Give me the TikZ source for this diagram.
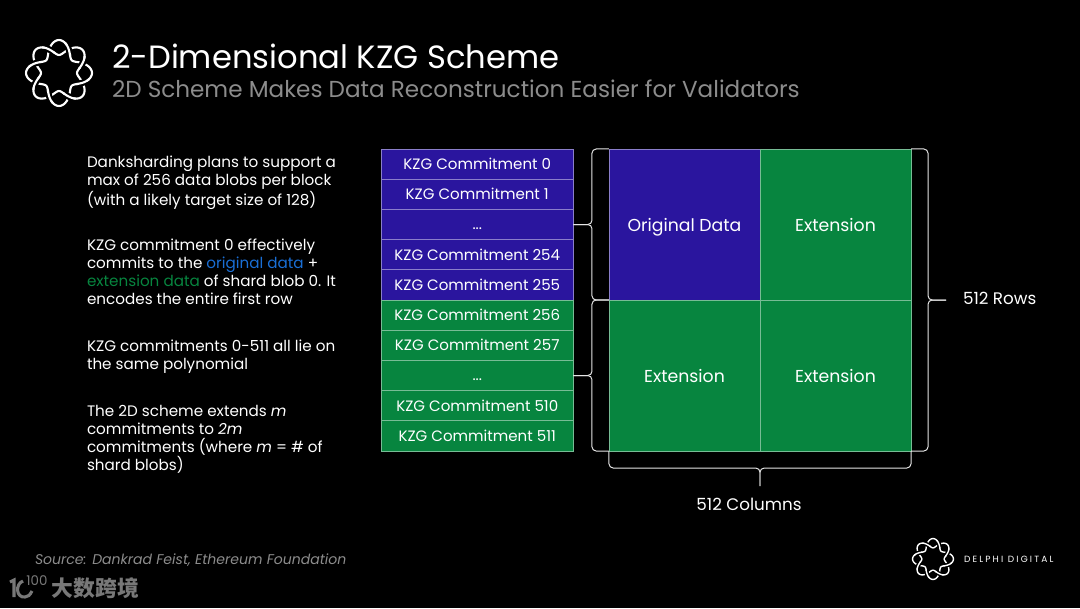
\documentclass[tikz,border=0pt]{standalone}
\usepackage{fontspec}
\setmainfont{Poppins}
\newfontfamily\cjk{Noto Sans CJK SC}
\definecolor{cblue}{HTML}{2A159E}
\definecolor{cgreen}{HTML}{07853F}
\definecolor{cgrey}{HTML}{8C8C8C}
\definecolor{cmark}{HTML}{787878}
\definecolor{clink}{HTML}{1A6FD6}
\newcommand{\rowdots}{...}
\tikzset{
  every picture/.style={x=0.025cm, y=-0.025cm},
  every node/.style={text=white, inner sep=0pt, outer sep=0pt},
  kzgbox/.style={draw=#1!55!white, fill=#1, line width=0.6pt, minimum width=4.81cm, minimum height=0.755cm, text height=7.8pt, text depth=0pt, font=\fontsize{10.7}{12}\selectfont},
  cell/.style={draw=#1!55!white, fill=#1, line width=0.5pt, minimum size=3.775cm, text height=9.4pt, text depth=0pt, font=\fontsize{12.3}{14}\selectfont},
  para/.style={anchor=north west, align=left, font=\fontsize{10.8}{12.8}\selectfont},
  brace/.style={draw=white!90!black, line width=0.7pt, rounded corners=3pt},
  dim/.style={font=\fontsize{11.9}{14}\selectfont},
  title/.style={anchor=base west, font=\fontsize{22.9}{26}\selectfont},
  subtitle/.style={anchor=base west, text=cgrey, font=\fontsize{16.43}{19}\selectfont},
  pics/logo/.style={code={
    \foreach \ph in {0,45}
      \draw[white, line width=#1, smooth, samples=97, domain=0:360]
        plot ({(25.5+7.5*cos(4*\x-4*\ph))*cos(\x)}, {(25.5+7.5*cos(4*\x-4*\ph))*sin(\x)});
    % strand on top at every other crossing
    \foreach \c in {22.5,112.5,202.5,292.5} {
      \draw[black, line width=3*#1, smooth, samples=9, domain=\c-7:\c+7]
        plot ({(25.5+7.5*cos(4*\x))*cos(\x)}, {(25.5+7.5*cos(4*\x))*sin(\x)});
      \draw[white, line width=#1, smooth, samples=13, domain=\c-11:\c+11]
        plot ({(25.5+7.5*cos(4*\x))*cos(\x)}, {(25.5+7.5*cos(4*\x))*sin(\x)});
    }
    \foreach \c in {67.5,157.5,247.5,337.5} {
      \draw[black, line width=3*#1, smooth, samples=9, domain=\c-7:\c+7]
        plot ({(25.5+7.5*cos(4*\x-180))*cos(\x)}, {(25.5+7.5*cos(4*\x-180))*sin(\x)});
      \draw[white, line width=#1, smooth, samples=13, domain=\c-11:\c+11]
        plot ({(25.5+7.5*cos(4*\x-180))*cos(\x)}, {(25.5+7.5*cos(4*\x-180))*sin(\x)});
    }
  }},
}

\begin{document}
\begin{tikzpicture}
  \fill[black] (0,0) rectangle (1080,608);
  \useasboundingbox (0,0) rectangle (1080,608);
  % header
  \pic at (59,73) {logo=1.5pt};
  \node[title] (head) at (112,68) {2-Dimensional KZG Scheme};
  \node[subtitle] (subhead) at (112,97) {2D Scheme Makes Data Reconstruction Easier for Validators};
  % left text
  \node[para] (p1) at (87,156) {Danksharding plans to support a\\max of 256 data blobs per block\\(with a likely target size of 128)};
  \node[para] (p2) at (87,239) {KZG commitment 0 effectively\\commits to the \textcolor{clink}{original data} +\\\textcolor{cgreen}{extension data} of shard blob 0. It\\encodes the entire first row};
  \node[para] (p3) at (87,340) {KZG commitments 0-511 all lie on\\the same polynomial};
  \node[para] (p4) at (87,405) {The 2D scheme extends \textit{m}\\commitments to \textit{2m}\\commitments (where \textit{m} = \# of\\shard blobs)};
  % commitment rows
  \foreach \i/\lbl/\col in {0/KZG Commitment 0/cblue, 1/KZG Commitment 1/cblue, 2/\rowdots/cblue, 3/KZG Commitment 254/cblue, 4/KZG Commitment 255/cblue,
                            5/KZG Commitment 256/cgreen, 6/KZG Commitment 257/cgreen, 7/\rowdots/cgreen, 8/KZG Commitment 510/cgreen, 9/KZG Commitment 511/cgreen}
    \node[kzgbox=\col] (k\i) at (477.25,{164.1+30.2*\i}) {\lbl};
  % data matrix
  \node[cell=cblue] (orig) at (684.5,224.5) {Original Data};
  \node[cell=cgreen] (extr) at (835.5,224.5) {Extension};
  \node[cell=cgreen] (extb) at (684.5,375.5) {Extension};
  \node[cell=cgreen] (extc) at (835.5,375.5) {Extension};
  % braces
  \draw[brace] (orig.north west) -- ++(-17,0) |- (k2.east);
  \draw[brace] (orig.south west) -- ++(-17,0) |- (k2.east);
  \draw[brace] (extb.north west) -- ++(-17,0) |- (k7.east);
  \draw[brace] (extb.south west) -- ++(-17,0) |- (k7.east);
  \coordinate (rowtip) at (946,300);
  \draw[brace] (extr.north east) -- ++(17,0) |- (rowtip);
  \draw[brace] (extc.south east) -- ++(17,0) |- (rowtip);
  \coordinate (coltip) at (760,486);
  \draw[brace] (extb.south west) -- ++(0,17) -| (coltip);
  \draw[brace] (extc.south east) -- ++(0,17) -| (coltip);
  \node[dim, anchor=west] (rows) at (963,298) {512 Rows};
  \node[dim] (cols) at (749,504) {512 Columns};
  % footer
  \node[anchor=base west, text=cgrey, font=\fontsize{10}{11}\selectfont\itshape] (source) at (35,564) {Source: Dankrad Feist, Ethereum Foundation};
  \pic[scale=0.62] at (933,559) {logo=1pt};
  \node[anchor=west, font=\fontsize{6.4}{7}\selectfont\addfontfeatures{LetterSpace=24}] (delphi) at (964,559.5) {DELPHI DIGITAL};
  % watermark
  \draw[cmark, line width=2.2pt] (10,582) -- (14,580) -- (14,597);
  \draw[cmark, line width=2.2pt] (23,581) .. controls (15,584) and (16,598) .. (25,597) .. controls (28,597) and (30,595) .. (32,591);
  \node[text=cmark, font=\fontsize{9.5}{11}\selectfont] (hundred) at (37,580.5) {100};
  \node[anchor=west, text=cmark, font=\cjk\bfseries\fontsize{15.5}{17}\selectfont] (mark) at (52,588.5) {大数跨境};
\end{tikzpicture}
\end{document}
